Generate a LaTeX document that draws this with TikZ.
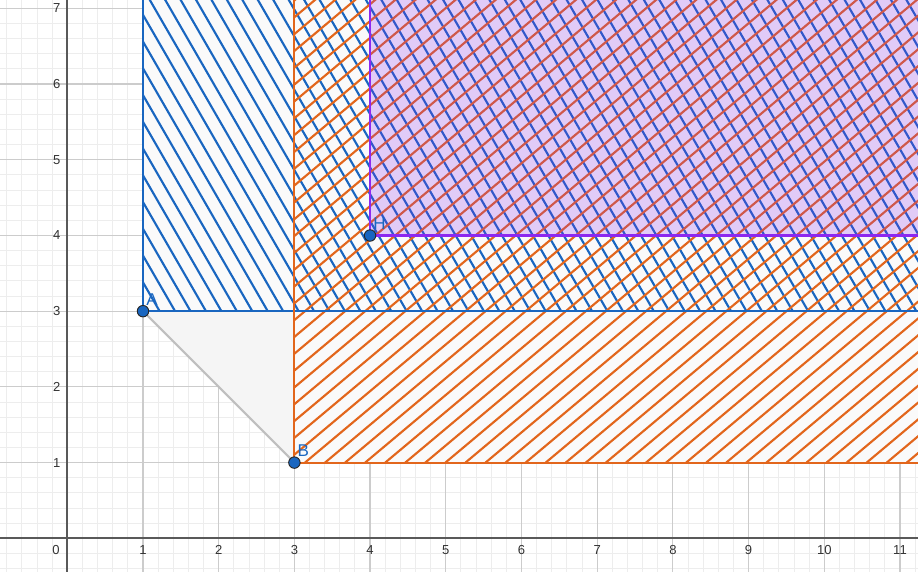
\documentclass[tikz,border=0pt]{standalone}
\usepackage{fontspec}
\setmainfont{Liberation Sans}
\usepackage{xcolor}
\usepackage{tikz}
\usetikzlibrary{positioning, calc}

\definecolor{ggblue}{RGB}{25,102,192}
\definecolor{ggorange}{RGB}{226,102,28}
\definecolor{ggpurple}{RGB}{140,40,240}

\begin{document}
\begin{tikzpicture}[
    every node/.style={font=\fontsize{4.9}{5}\selectfont},
    minorgrid/.style={draw=black!7, line width=0.35pt},
    majorgrid/.style={draw=black!20, line width=0.45pt},
    axisline/.style={draw=black!65, line width=0.6pt},
    ticklbl/.style={text=black!80, inner sep=0.5pt},
    region/.style={fill=black!2},
    bluehatch/.style={ggblue, line width=0.8pt},
    orangehatch/.style={ggorange, line width=0.8pt},
    bluebd/.style={ggblue, line width=0.8pt},
    orangebd/.style={ggorange, line width=0.8pt},
    purplebd/.style={ggpurple, line width=0.85pt},
    pt/.style={circle, fill=ggblue, draw=black!85, line width=0.35pt, inner sep=0pt, minimum size=4.3pt},
    ptlbl/.style={text=ggblue, font=\fontsize{6.4}{7}\selectfont, inner sep=0.4pt, anchor=south west},
]

% ---------- frame ----------
\useasboundingbox (-0.889,-0.442) rectangle (11.238,7.111);
\clip (-0.889,-0.442) rectangle (11.238,7.111);

% ---------- grid ----------
\draw[minorgrid] (-1,-0.6) grid[step=0.2] (11.4,7.2);
\draw[majorgrid] (-1,-1) grid[step=1] (11.4,7.2);

% ---------- shaded regions ----------
\fill[region] (1,3) rectangle (11.4,7.2);
\fill[region] (3,1) rectangle (11.4,7.2);
\fill[black!4] (1,3) -- (3,3) -- (3,1) -- cycle;
\draw[black!25, line width=0.8pt] (1,3) -- (3,1);

% hatching x >= 1, y >= 3
\begin{scope}
  \clip (1,3) rectangle (11.4,7.2);
  \foreach \i in {0,...,62} {
    \draw[bluehatch] ({1.22+0.204*\i},3) -- ++(-2.5,4.33);
  }
\end{scope}

% hatching x >= 3, y >= 1
\begin{scope}
  \clip (3,1) rectangle (11.4,7.2);
  \foreach \i in {-30,...,32} {
    \draw[orangehatch] ({3.14+0.265*\i},1) -- ++(7.5,6.29);
  }
\end{scope}

% x >= 4, y >= 4
\fill[ggpurple, fill opacity=0.22] (4,4) rectangle (11.4,7.2);

% ---------- borders ----------
\draw[bluebd] (1,7.2) -- (1,3) -- (11.4,3);
\draw[orangebd] (3,7.2) -- (3,1) -- (11.4,1);
\draw[purplebd] (4,7.2) -- (4,4) -- (11.4,4);

% ---------- axes ----------
\draw[axisline] (-1,0) -- (11.4,0);
\draw[axisline] (0,-0.6) -- (0,7.2);
\node[ticklbl] (x0) at (-0.15,-0.15) {0};
\foreach \i in {1,...,11} {
  \node[ticklbl] (x\i) at (\i,-0.15) {\i};
}
\foreach \i in {1,...,7} {
  \node[ticklbl] (y\i) at (-0.14,\i) {\i};
}

% ---------- points ----------
\node[pt] (A) at (1,3) {};
\node[pt] (B) at (3,1) {};
\node[pt] (H) at (4,4) {};
\node[ptlbl, above right=0pt and -1pt of A] (lA) {A};
\node[ptlbl, above right=0pt and -1pt of B] (lB) {B};
\node[ptlbl, above right=0pt and -1pt of H] (lH) {H};

\end{tikzpicture}
\end{document}
